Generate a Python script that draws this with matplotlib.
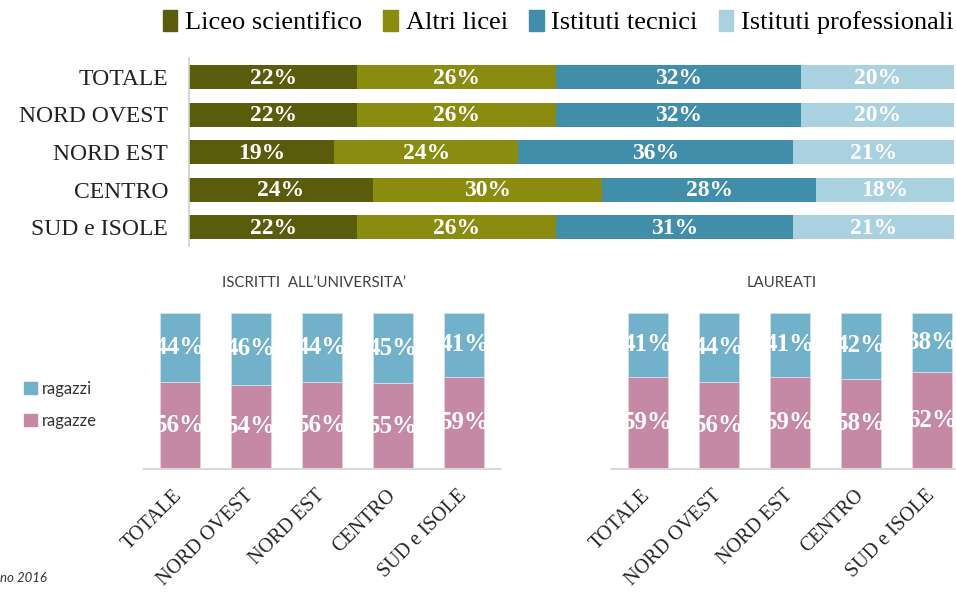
import matplotlib.pyplot as plt
from matplotlib.patches import Patch

# --- data ---
regions = ["TOTALE", "NORD OVEST", "NORD EST", "CENTRO", "SUD e ISOLE"]
school_types = ["Liceo scientifico", "Altri licei", "Istituti tecnici", "Istituti professionali"]
liceo_sci = [22, 22, 19, 24, 22]
altri_licei = [26, 26, 24, 30, 26]
ist_tecnici = [32, 32, 36, 28, 31]
ist_prof = [20, 20, 21, 18, 21]

iscritti_ragazze = [56, 54, 56, 55, 59]
iscritti_ragazzi = [44, 46, 44, 45, 41]
laureati_ragazze = [59, 56, 59, 58, 62]
laureati_ragazzi = [41, 44, 41, 42, 38]

school_colors = ["#5b5c0b", "#8a8c10", "#418eab", "#aad1df"]
col_ragazzi = "#72b1ca"
col_ragazze = "#c589a5"

SERIF = "Liberation Serif"
SANS = "Lato"

W, H = 956, 592
fig = plt.figure(figsize=(W / 100, H / 100), dpi=100)


def px(x0, y0, x1, y1):
    return [x0 / W, 1 - y1 / H, (x1 - x0) / W, (y1 - y0) / H]


# --- top stacked horizontal bar ---
ax = fig.add_axes(px(189, 58.25, 954, 245.75))
series = [liceo_sci, altri_licei, ist_tecnici, ist_prof]
ypos = list(range(len(regions)))
left = [0] * len(regions)
for vals, col, name in zip(series, school_colors, school_types):
    bars = ax.barh(ypos, vals, left=left, height=0.64, color=col, label=name)
    for b, v in zip(bars, vals):
        ax.text(b.get_x() + b.get_width() / 2, b.get_y() + b.get_height() / 2 + 0.03,
                f"{v}%", ha="center", va="center", color="white",
                fontsize=17, fontweight="bold", family=SERIF)
    left = [l + v for l, v in zip(left, vals)]
ax.set_xlim(0, 100)
ax.set_ylim(4.5, -0.5)
ax.set_yticks(ypos)
ax.set_yticklabels(regions, family=SERIF, fontsize=17, color="#222222")
ax.tick_params(axis="y", length=0, pad=15)
ax.set_xticks([])
for s in ["top", "right", "bottom"]:
    ax.spines[s].set_visible(False)
ax.spines["left"].set_color("#d0d0d0")
ax.spines["left"].set_linewidth(1.2)

handles = [Patch(color=c, label=n) for c, n in zip(school_colors, school_types)]
fig.legend(handles=handles, loc="center", bbox_to_anchor=(0.584, 1 - 22 / H), ncol=4,
           frameon=False, prop={"family": SERIF, "size": 19},
           handlelength=0.55, handleheight=0.85, handletextpad=0.3,
           columnspacing=0.8, borderaxespad=0, borderpad=0)


# --- bottom small stacked columns ---
def columns(rect, girls, boys, title):
    a = fig.add_axes(rect)
    x = list(range(len(regions)))
    bg = a.bar(x, girls, width=0.56, color=col_ragazze, edgecolor="#e8d0dc", linewidth=0.6)
    bb = a.bar(x, boys, bottom=girls, width=0.56, color=col_ragazzi, edgecolor="#cfe4ee", linewidth=0.6)
    for group, vals in ((bg, girls), (bb, boys)):
        for b, v in zip(group, vals):
            t = a.text(b.get_x() + b.get_width() / 2, b.get_y() + b.get_height() / 2,
                       f"{v}%", ha="center", va="center", color="white",
                       fontsize=18, fontweight="bold", family=SERIF)
            t.set_clip_path(b)
    a.set_xlim(-0.5, 4.5)
    a.set_ylim(0, 100)
    a.set_yticks([])
    a.set_xticks(x)
    a.set_xticklabels(regions, rotation=45, ha="right", va="center",
                      rotation_mode="anchor", family=SERIF, fontsize=14.5, color="#222222")
    a.tick_params(axis="x", length=0, pad=17)
    for s in ["top", "right", "left"]:
        a.spines[s].set_visible(False)
    a.spines["bottom"].set_color("#d9d9d9")
    a.spines["bottom"].set_linewidth(1.5)
    a.text(0.477, 1.192, title, transform=a.transAxes, ha="center", va="center",
           family=SANS, fontsize=10.8, color="#404040")
    return a


columns(px(144, 313, 500, 469), iscritti_ragazze, iscritti_ragazzi, "ISCRITTI  ALL\u2019UNIVERSITA\u2019")
columns(px(612, 313, 968, 469), laureati_ragazze, laureati_ragazzi, "LAUREATI")

lh = [Patch(color=col_ragazzi, label="ragazzi"), Patch(color=col_ragazze, label="ragazze")]
fig.legend(handles=lh, loc="upper left", bbox_to_anchor=(24 / W, 1 - 381 / H),
           frameon=False, prop={"family": SANS, "size": 12},
           handlelength=0.75, handleheight=0.75, handletextpad=0.3,
           labelspacing=0.95, borderaxespad=0, borderpad=0, labelcolor="#333333")

fig.text(0, 1 - 578 / H, "no 2016", ha="left", va="center", family=SANS,
         style="italic", fontsize=9.5, color="#333333")

fig.savefig("out.png", dpi=100)
